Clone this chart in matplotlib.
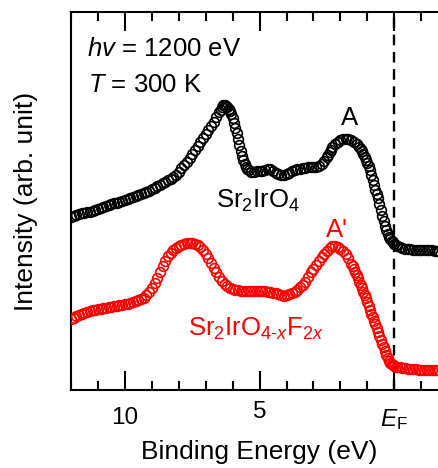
import matplotlib
matplotlib.use("Agg")
import matplotlib.pyplot as plt
from matplotlib.ticker import MultipleLocator, FixedLocator, FixedFormatter

plt.rcParams['font.family'] = ['Liberation Sans', 'DejaVu Sans']
plt.rcParams['mathtext.fontset'] = 'custom'
plt.rcParams['mathtext.rm'] = 'Liberation Sans'
plt.rcParams['mathtext.it'] = 'Liberation Sans:italic'
plt.rcParams['mathtext.bf'] = 'Liberation Sans:bold'

# ---- data (binding energy in eV, intensity in arb. units) ----
black_E = [12.0, 11.9, 11.8, 11.7, 11.6, 11.5, 11.4, 11.3, 11.2, 11.1, 11.0, 10.9, 10.8, 10.7, 10.6, 10.5,
           10.4, 10.3, 10.2, 10.1, 10.0, 9.9, 9.8, 9.7, 9.6, 9.5, 9.4, 9.3, 9.2, 9.1, 9.0, 8.9, 8.8, 8.7,
           8.6, 8.5, 8.4, 8.3, 8.2, 8.1, 8.0, 7.9, 7.8, 7.7, 7.6, 7.5, 7.4, 7.3, 7.2, 7.1, 7.0, 6.9, 6.8,
           6.7, 6.6, 6.5, 6.45, 6.4, 6.35, 6.3, 6.25, 6.2, 6.15, 6.1, 6.05, 6.0, 5.95, 5.9, 5.85, 5.8,
           5.75, 5.7, 5.65, 5.6, 5.55, 5.5, 5.45, 5.4, 5.3, 5.2, 5.1, 5.0, 4.9, 4.8, 4.7, 4.6, 4.5, 4.4,
           4.3, 4.2, 4.1, 4.0, 3.9, 3.8, 3.7, 3.6, 3.5, 3.4, 3.3, 3.2, 3.1, 3.0, 2.9, 2.8, 2.7, 2.6, 2.5,
           2.45, 2.4, 2.35, 2.3, 2.2, 2.1, 2.0, 1.9, 1.8, 1.7, 1.6, 1.5, 1.4, 1.3, 1.25, 1.2, 1.15, 1.1,
           1.05, 1.0, 0.95, 0.9, 0.85, 0.8, 0.75, 0.7, 0.65, 0.6, 0.55, 0.5, 0.45, 0.4, 0.35, 0.3, 0.25,
           0.2, 0.15, 0.1, 0.05, 0.0, -0.05, -0.1, -0.2, -0.3, -0.4, -0.5, -0.6, -0.7, -0.8, -0.9, -1.0,
           -1.1, -1.2, -1.3, -1.4, -1.5, -1.6, -1.65]
black_I = [17.3, 17.4, 17.5, 17.6, 17.7, 17.75, 17.8, 17.85, 17.9, 18.0, 18.1, 18.2, 18.3, 18.4, 18.5, 18.6,
           18.7, 18.75, 18.8, 18.9, 19.0, 19.1, 19.2, 19.3, 19.4, 19.5, 19.6, 19.7, 19.8, 19.95, 20.1, 20.25, 20.4, 20.55,
           20.7, 20.85, 21.0, 21.15, 21.3, 21.5, 21.8, 22.2, 22.5, 22.8, 23.2, 23.6, 24.0, 24.4, 24.8, 25.2, 25.6, 26.0, 26.4,
           26.8, 27.3, 27.8, 28.05, 28.3, 28.5, 28.5, 28.4, 28.3, 28.1, 27.9, 27.6, 27.2, 26.7, 26.2, 25.7, 25.1,
           24.5, 23.9, 23.4, 23.0, 22.6, 22.3, 22.15, 22.0, 21.8, 21.8, 21.9, 21.9, 21.9, 22.0, 22.1, 22.1, 21.9, 21.7,
           21.6, 21.5, 21.5, 21.6, 21.75, 21.9, 22.0, 22.1, 22.15, 22.2, 22.25, 22.3, 22.3, 22.3, 22.35, 22.4, 22.6, 22.9, 23.3,
           23.55, 23.8, 24.05, 24.3, 24.6, 24.8, 25.0, 25.1, 25.1, 25.1, 25.0, 24.8, 24.6, 24.3, 24.1, 23.9, 23.6, 23.3,
           23.0, 22.7, 22.4, 22.0, 21.5, 21.0, 20.5, 20.0, 19.6, 19.2, 18.6, 18.0, 17.4, 16.9, 16.4, 16.0, 15.6,
           15.3, 15.1, 14.9, 14.8, 14.6, 14.5, 14.4, 14.3, 14.2, 14.1, 14.1, 14.1, 14.05, 14.0, 14.0, 14.0,
           14.0, 14.0, 14.0, 14.0, 13.95, 13.9, 13.9]

red_E = [12.0, 11.9, 11.8, 11.7, 11.6, 11.5, 11.4, 11.3, 11.2, 11.1, 11.0, 10.9, 10.8, 10.7, 10.6, 10.5,
         10.4, 10.3, 10.2, 10.1, 10.0, 9.9, 9.8, 9.7, 9.6, 9.5, 9.4, 9.3, 9.2, 9.1, 9.0, 8.9, 8.8, 8.7,
         8.6, 8.5, 8.4, 8.3, 8.2, 8.1, 8.0, 7.9, 7.8, 7.7, 7.6, 7.5, 7.4, 7.3, 7.2, 7.1, 7.0, 6.9, 6.8,
         6.7, 6.6, 6.5, 6.4, 6.3, 6.2, 6.1, 6.0, 5.9, 5.8, 5.7, 5.6, 5.5, 5.4, 5.3, 5.2, 5.1, 5.0, 4.9,
         4.8, 4.7, 4.6, 4.5, 4.4, 4.3, 4.2, 4.1, 4.0, 3.9, 3.8, 3.7, 3.6, 3.5, 3.4, 3.3, 3.2, 3.1, 3.0,
         2.9, 2.8, 2.7, 2.6, 2.5, 2.4, 2.3, 2.2, 2.1, 2.0, 1.9, 1.8, 1.7, 1.6, 1.55, 1.5, 1.45, 1.4,
         1.35, 1.3, 1.25, 1.2, 1.15, 1.1, 1.05, 1.0, 0.95, 0.9, 0.85, 0.8, 0.75, 0.7, 0.65, 0.6, 0.55,
         0.5, 0.45, 0.4, 0.35, 0.3, 0.25, 0.2, 0.15, 0.1, 0.05, 0.0, -0.05, -0.1, -0.2, -0.3, -0.4, -0.5,
         -0.6, -0.7, -0.8, -0.9, -1.0, -1.1, -1.2, -1.3, -1.4, -1.5, -1.6, -1.65]
red_I = [7.1, 7.25, 7.4, 7.5, 7.6, 7.7, 7.8, 7.9, 8.0, 8.05, 8.1, 8.15, 8.2, 8.25, 8.3, 8.35,
         8.4, 8.45, 8.5, 8.55, 8.6, 8.65, 8.7, 8.8, 8.9, 9.0, 9.1, 9.2, 9.5, 9.8, 10.2, 10.7, 11.2, 11.8,
         12.4, 12.9, 13.4, 13.7, 14.0, 14.2, 14.4, 14.5, 14.6, 14.7, 14.7, 14.7, 14.6, 14.5, 14.3, 14.0, 13.6, 13.2, 12.7,
         12.2, 11.8, 11.3, 10.9, 10.6, 10.4, 10.2, 10.1, 10.05, 10.0, 9.95, 9.9, 9.9, 9.9, 9.9, 9.9, 9.95, 9.9, 9.9,
         9.9, 9.85, 9.8, 9.75, 9.7, 9.6, 9.5, 9.45, 9.5, 9.6, 9.7, 9.8, 10.0, 10.3, 10.5, 10.8, 11.3, 11.8, 12.1,
         12.5, 12.9, 13.3, 13.6, 13.9, 14.2, 14.4, 14.4, 14.3, 14.1, 13.9, 13.6, 13.2, 12.6, 12.4, 12.1, 11.8, 11.5,
         11.2, 10.8, 10.5, 10.2, 9.8, 9.5, 9.2, 8.8, 8.4, 8.0, 7.6, 7.3, 6.9, 6.6, 6.2, 5.8, 5.4,
         5.0, 4.6, 4.3, 3.9, 3.5, 3.2, 2.9, 2.7, 2.6, 2.5, 2.4, 2.35, 2.3, 2.3, 2.2, 2.2, 2.15,
         2.1, 2.1, 2.1, 2.05, 2.0, 2.0, 2.0, 2.0, 2.0, 2.0, 2.0, 2.0]

xtick_pos = [10, 5, 0]
xtick_labels = ['10', '5', r'$E_\mathrm{F}$']

# ---- figure ----
fig = plt.figure(figsize=(4.39, 4.68), dpi=100)
ax = fig.add_axes([71/439, 78/468, 368/439, 378/468])

ax.plot(black_E, black_I, 'o', ls='none', mfc='none', mec='black', ms=7, mew=1.2, zorder=3)
ax.plot(red_E, red_I, 'o', ls='none', mfc='none', mec='#ff0000', ms=7, mew=1.2, zorder=3)
ax.axvline(0, color='black', lw=1.7, dashes=(4.5, 2.8), zorder=2)

ax.set_xlim(12.0, -1.66)
ax.set_ylim(0, 37.8)

ax.xaxis.set_major_locator(FixedLocator(xtick_pos))
ax.xaxis.set_major_formatter(FixedFormatter(xtick_labels))
ax.xaxis.set_minor_locator(MultipleLocator(1))
ax.tick_params(axis='x', which='both', direction='in', top=True, bottom=True, width=1.5, labelsize=17.5, pad=12)
ax.tick_params(axis='x', which='major', length=13.5)
ax.tick_params(axis='x', which='minor', length=6.5)
ax.tick_params(axis='y', which='both', left=False, right=False, labelleft=False)

# the "5" label sits slightly higher in the reference
major_ticks = ax.xaxis.get_major_ticks()
if len(major_ticks) > 1:
    major_ticks[1].label1.set_y(0.016)

for s in ['left', 'top', 'bottom']:
    ax.spines[s].set_linewidth(1.5)
ax.spines['right'].set_visible(False)

ax.set_xlabel('Binding Energy (eV)', fontsize=19)
ax.xaxis.set_label_coords(0.512, -0.132)
ax.xaxis.label.set_va('top')
ax.set_ylabel('Intensity (arb. unit)', fontsize=19)
ax.yaxis.set_label_coords(-0.089, 0.5)

ax.text(0.044, 0.884, r'$hv$ = 1200 eV', transform=ax.transAxes, fontsize=18.5, ha='left', va='baseline')
ax.text(0.047, 0.788, r'$T$ = 300 K', transform=ax.transAxes, fontsize=18.5, ha='left', va='baseline')
ax.text(1.65, 26.5, 'A', fontsize=18.5, ha='center', va='baseline')
ax.text(6.60, 18.2, r'Sr$_2$IrO$_4$', fontsize=18.5, ha='left', va='baseline')
ax.text(2.13, 15.3, "A'", fontsize=18.5, ha='center', va='baseline', color='#ff0000')
ax.text(7.66, 5.4, r'Sr$_2$IrO$_{4\text{-}x}$F$_{2x}$', fontsize=18.5, ha='left', va='baseline', color='#ff0000')

fig.savefig('out.png', dpi=100)
